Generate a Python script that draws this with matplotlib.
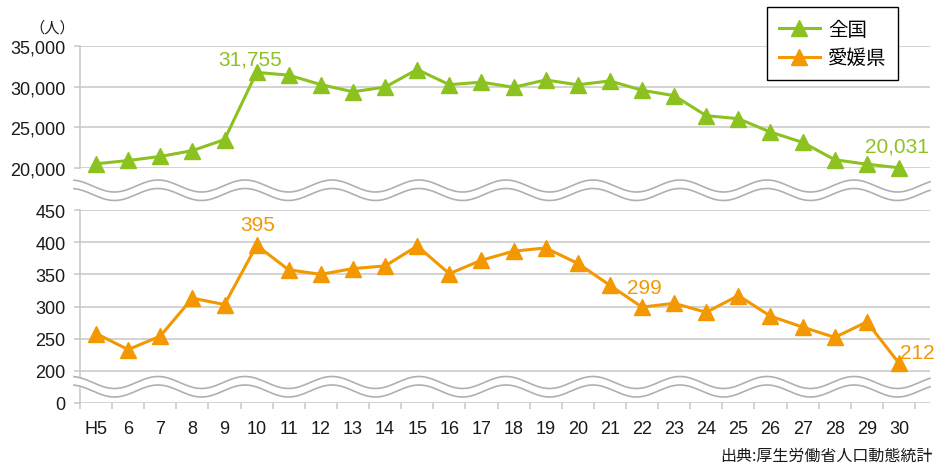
import numpy as np
import matplotlib
matplotlib.use("Agg")
import matplotlib.pyplot as plt
from matplotlib.lines import Line2D

# data (人)
years = ['H5', '6', '7', '8', '9', '10', '11', '12', '13', '14', '15', '16', '17',
         '18', '19', '20', '21', '22', '23', '24', '25', '26', '27', '28', '29', '30']
zenkoku = [20516, 20923, 21420, 22138, 23494, 31755, 31413, 30251, 29375, 29949,
           32109, 30247, 30553, 29921, 30827, 30229, 30707, 29554, 28896, 26433,
           26063, 24417, 23152, 21017, 20465, 20031]
ehime = [258, 233, 254, 313, 303, 395, 357, 350, 359, 363, 394, 351, 372, 386,
         391, 367, 333, 299, 305, 291, 317, 285, 268, 252, 276, 212]

top_ticks = [20000, 25000, 30000, 35000]
top_labels = ['20,000', '25,000', '30,000', '35,000']
# bottom panel: 150 stands in for the "0" below the break
bot_ticks = [150, 200, 250, 300, 350, 400, 450]
bot_labels = ['0', '200', '250', '300', '350', '400', '450']

GREEN = '#8cc21f'
ORANGE = '#f39800'
GRID = '#c8c8c8'
WAVE = '#b0b0b0'

W, H = 934, 464
fig = plt.figure(figsize=(W / 100, H / 100), dpi=100)
plt.rcParams['font.family'] = ['Liberation Sans', 'Noto Sans CJK JP']

def px_axes(x0, y0, x1, y1):
    return fig.add_axes([x0 / W, 1 - y1 / H, (x1 - x0) / W, (y1 - y0) / H])

ax_top = px_axes(80, 47, 930, 169)
ax_bot = px_axes(80, 211, 930, 404)

x = np.arange(len(years))
xmax = 25.5 + 15 / 32.12

for ax in (ax_top, ax_bot):
    ax.set_xlim(-0.5, xmax)
    for s in ('top', 'right', 'bottom'):
        ax.spines[s].set_visible(False)
    ax.spines['left'].set_color(GRID)
    ax.spines['left'].set_linewidth(1.1)
    ax.grid(axis='y', color=GRID, linewidth=1.1)
    ax.set_axisbelow(True)
    ax.tick_params(axis='y', length=4.5, width=1.1, color=GRID, pad=6,
                   labelsize=13, labelcolor='#1a1a1a')
    ax.set_facecolor('none')

ax_top.set_ylim(20000, 35000)
ax_top.set_yticks(top_ticks)
ax_top.set_yticklabels(top_labels)
ax_top.set_xticks([])

ax_bot.set_ylim(150, 450)
ax_bot.set_yticks(bot_ticks)
ax_bot.set_yticklabels(bot_labels)
ax_bot.set_xticks(np.arange(-0.5, 26, 1.0))
ax_bot.set_xticklabels([])
ax_bot.set_xticks(x, minor=True)
ax_bot.set_xticklabels(years, minor=True)
ax_bot.tick_params(axis='x', which='major', length=4.5, width=1.1, color=GRID)
ax_bot.tick_params(axis='x', which='minor', length=0, pad=12.5, labelsize=13,
                   labelcolor='#1a1a1a')

ax_top.plot(x, zenkoku, color=GREEN, lw=2.2, marker='^', ms=11, clip_on=False, zorder=5)
ax_bot.plot(x, ehime, color=ORANGE, lw=2.2, marker='^', ms=11, clip_on=False, zorder=5)

ax_top.text(4.8, 33400, '31,755', color=GREEN, fontsize=15, ha='center', va='center')
ax_top.text(23.95, 22705, '20,031', color=GREEN, fontsize=15, ha='left', va='center')
ax_bot.text(5.04, 428, '395', color=ORANGE, fontsize=15, ha='center', va='center')
ax_bot.text(17.06, 330, '299', color=ORANGE, fontsize=15, ha='center', va='center')
ax_bot.text(25.02, 228, '212', color=ORANGE, fontsize=15, ha='left', va='center')

# wavy break marks, drawn in pixel coordinates on an overlay
ov = fig.add_axes([0, 0, 1, 1])
ov.set_xlim(0, W)
ov.set_ylim(H, 0)
ov.axis('off')
xs = np.linspace(74, 930, 600)
for c in (187, 383.5):
    up = c - 6 * np.cos(2 * np.pi * (xs - 158) / 87)
    lo = up + 8.5
    ov.fill_between(xs, up, lo, color='white', zorder=1)
    ov.plot(xs, up, color=WAVE, lw=1.2, zorder=2)
    ov.plot(xs, lo, color=WAVE, lw=1.2, zorder=2)

jp = ['Noto Sans CJK JP', 'DejaVu Sans']
fig.text(52 / W, 1 - 28 / H, '（人）', fontsize=11, family=jp, ha='center', va='center',
         color='#1a1a1a')
fig.text(933 / W, 1 - 456 / H, '出典:厚生労働省人口動態統計', fontsize=11.5, family=jp,
         ha='right', va='center', color='#1a1a1a')

handles = [Line2D([], [], color=GREEN, lw=2.2, marker='^', ms=11),
           Line2D([], [], color=ORANGE, lw=2.2, marker='^', ms=11)]
leg = fig.legend(handles, ['全国', '愛媛県'], loc='upper left',
                 bbox_to_anchor=(767 / W, 1 - 8 / H), borderaxespad=0,
                 prop={'family': jp, 'size': 14}, fancybox=False, framealpha=1,
                 edgecolor='black', handlelength=2.1, labelspacing=0.4,
                 borderpad=0.6, handletextpad=0.45)
leg.get_frame().set_linewidth(1.0)

fig.savefig('out.png', dpi=100)
